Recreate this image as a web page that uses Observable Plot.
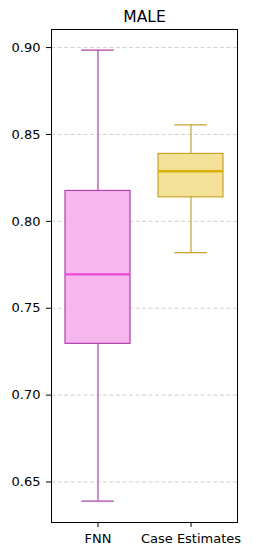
<!DOCTYPE html>
<html>
<head>
<meta charset="utf-8">
<script src="https://cdn.jsdelivr.net/npm/d3@7"></script>
<script src="https://cdn.jsdelivr.net/npm/@observablehq/plot@0.6"></script>
<style>
  html, body { margin: 0; padding: 0; background: #fff; }
  svg { display: block; }
</style>
</head>
<body>
<div id="chart"></div>
<script>
const title = "MALE";
const categories = ["FNN", "Case Estimates"];
const whiskerLow = [0.639, 0.782];
const q1 = [0.7295, 0.8138];
const median = [0.7695, 0.8288];
const q3 = [0.8175, 0.8388];
const whiskerHigh = [0.8985, 0.8555];
const fills = ["#f7b7ee", "#f2e196"];
const edges = ["#b040ac", "#c8a32c"];
const medianColors = ["#ec48d8", "#d9b000"];
const yTicks = [0.65, 0.70, 0.75, 0.80, 0.85, 0.90];

const rows = categories.map((c, i) => ({
  cat: c, lo: whiskerLow[i], q1: q1[i], med: median[i], q3: q3[i], hi: whiskerHigh[i],
  fill: fills[i], edge: edges[i], medc: medianColors[i]
}));

const font = "'DejaVu Sans', sans-serif";
const chart = Plot.plot({
  width: 253,
  height: 556,
  marginLeft: 51,
  marginRight: 16,
  marginTop: 29,
  marginBottom: 34,
  style: { fontFamily: font, fontSize: "13px", background: "#fff", color: "#000" },
  x: { type: "band", domain: categories, padding: 0, label: null },
  y: { domain: [0.6267, 0.9104], label: null },
  marks: [
    Plot.gridY(yTicks, { stroke: "#c4c4c4", strokeOpacity: 1, strokeDasharray: "4,2.5", strokeWidth: 0.8 }),
    Plot.ruleX(rows, { x: "cat", y1: "lo", y2: "q1", stroke: "edge", strokeWidth: 1.2 }),
    Plot.ruleX(rows, { x: "cat", y1: "q3", y2: "hi", stroke: "edge", strokeWidth: 1.2 }),
    Plot.barY(rows, { x: "cat", y1: "q1", y2: "q3", fill: "fill", stroke: "edge", strokeWidth: 1.2, insetLeft: 14, insetRight: 14 }),
    Plot.tickY(rows, { x: "cat", y: "med", stroke: "medc", strokeWidth: 2.4, inset: 14 }),
    Plot.tickY(rows, { x: "cat", y: "lo", stroke: "edge", strokeWidth: 1.2, inset: 30.2 }),
    Plot.tickY(rows, { x: "cat", y: "hi", stroke: "edge", strokeWidth: 1.2, inset: 30.2 }),
    Plot.axisY(yTicks, { tickSize: 5, tickPadding: 6, tickFormat: d3.format(".2f"), label: null, fontSize: 13 }),
    Plot.axisX({ tickSize: 5, tickPadding: 6, label: null, fontSize: 13 }),
    Plot.frame({ stroke: "#000", strokeWidth: 1 }),
    Plot.text([title], { frameAnchor: "top", dy: -12, lineAnchor: "middle", fontSize: 15.5, fill: "#000" })
  ]
});
document.getElementById("chart").appendChild(chart);
</script>
</body>
</html>
